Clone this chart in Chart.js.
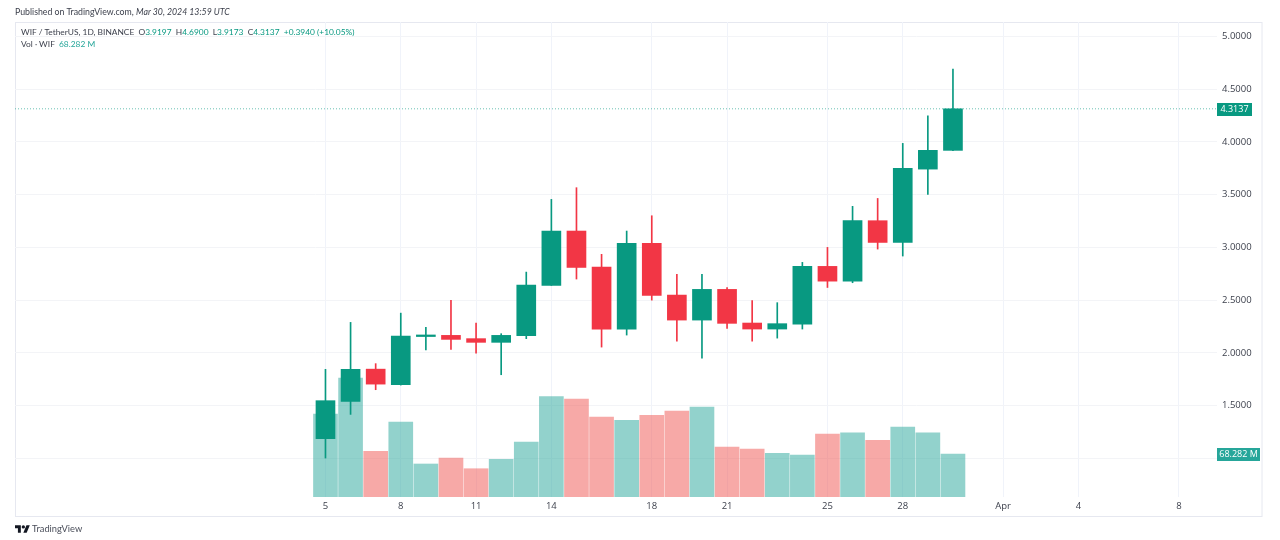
<!DOCTYPE html>
<html>
<head>
<meta charset="utf-8">
<title>WIF / TetherUS</title>
<script src="https://cdn.jsdelivr.net/npm/chart.js@4"></script>
<style>
    body { margin: 0; background: #fff; width: 1280px; height: 540px; overflow: hidden; position: relative; font-family: Lato, sans-serif; }
    canvas { position: absolute; left: 0; top: 0; }
    .txt { position: absolute; white-space: pre; font-size: 8.4px; line-height: 12px; color: #3b3f4b; }
    .head { font-size: 8.75px; }
    .up { color: #089981; }
    .vol { color: #26a69a; }
    .brand { font-size: 9.3px; color: #4a4e5a; }
    svg { position: absolute; left: 15px; top: 525px; }
</style>
</head>
<body>
<canvas id="wifChart" width="1280" height="540"></canvas>
<div class="txt head" style="left:15px;top:6px">Published on TradingView.com, <i>Mar 30, 2024 13:59 UTC</i></div>
<div class="txt" style="left:21px;top:26px">WIF / TetherUS, 1D, BINANCE  O<span class="up">3.9197</span>  H<span class="up">4.6900</span>  L<span class="up">3.9173</span>  C<span class="up">4.3137</span>  <span class="up">+0.3940 (+10.05%)</span></div>
<div class="txt" style="left:21px;top:38px">Vol · WIF  <span class="vol">68.282 M</span></div>
<svg width="15" height="8" viewBox="0 4 36 18"><path fill="#131722" d="M14 22H7V11H0V4h14v18zM28 22h-8l7.5-18h8L28 22z"/><circle fill="#131722" cx="20" cy="8" r="4"/></svg>
<div class="txt brand" style="left:32px;top:523px">TradingView</div>
<script>
    // March 2024 day numbers, April continues as 32, 33...
    const days = [5, 6, 7, 8, 9, 10, 11, 12, 13, 14, 15, 16, 17, 18, 19, 20, 21, 22, 23, 24, 25, 26, 27, 28, 29, 30];
    const opens = [1.187, 1.54, 1.846, 1.699, 2.155, 2.166, 2.135, 2.10, 2.163, 2.64, 3.155, 2.813, 2.226, 3.038, 2.548, 2.311, 2.602, 2.283, 2.226, 2.273, 2.82, 2.68, 3.253, 3.047, 3.742, 3.9197];
    const highs = [1.844, 2.289, 1.898, 2.377, 2.242, 2.498, 2.282, 2.182, 2.766, 3.455, 3.566, 2.934, 3.155, 3.30, 2.744, 2.744, 2.62, 2.495, 2.476, 2.858, 3.0, 3.389, 3.464, 3.986, 4.248, 4.69];
    const lows = [1.003, 1.417, 1.651, 1.695, 2.027, 2.033, 1.998, 1.793, 2.135, 2.64, 2.70, 2.055, 2.169, 2.50, 2.112, 1.951, 2.232, 2.112, 2.14, 2.226, 2.62, 2.665, 2.984, 2.918, 3.502, 3.9173];
    const closes = [1.547, 1.844, 1.704, 2.159, 2.17, 2.128, 2.10, 2.166, 2.643, 3.155, 2.81, 2.226, 3.038, 2.545, 2.311, 2.602, 2.28, 2.226, 2.277, 2.82, 2.68, 3.253, 3.047, 3.749, 3.92, 4.3137];
    const volumes = [131.8, 189, 72.6, 119, 52.4, 61.9, 44.9, 59.9, 87.3, 159.3, 155.6, 127, 121.8, 129.7, 136.6, 142.9, 79.4, 76.2, 69.4, 66.7, 100, 102.1, 90, 111.2, 102.1, 68.282];

    const timeTicks = [5, 8, 11, 14, 18, 21, 25, 28, 32, 35, 39];
    const timeLabels = ['5', '8', '11', '14', '18', '21', '25', '28', 'Apr', '4', '8'];
    const priceTicks = [1, 1.5, 2, 2.5, 3, 3.5, 4, 4.5, 5];
    const priceLabels = ['', '1.5000', '2.0000', '2.5000', '3.0000', '3.5000', '4.0000', '4.5000', '5.0000'];

    const lastClose = 4.3137;
    const lastVolume = 68.282;
    const xMin = -7.37;
    const xMax = 40.52;

    const green = '#089981';
    const red = '#f23645';
    const isUp = (i) => closes[i] >= opens[i];

    const badges = {
        id: 'badges',
        beforeDraw(chart) {
            const { ctx, chartArea, scales } = chart;
            ctx.save();
            ctx.strokeStyle = '#e6e8f0';
            ctx.lineWidth = 1;
            ctx.strokeRect(15.5, chartArea.top + 0.5, scales.y.right - 15.5 - 1, 516 - chartArea.top);
            ctx.restore();
        },
        afterDraw(chart) {
            const { ctx, chartArea, scales } = chart;
            const drawBadge = (y, width, text, color) => {
                ctx.fillStyle = color;
                ctx.fillRect(chartArea.right, Math.round(y) - 6, width, 13);
                ctx.fillStyle = '#fff';
                ctx.font = '9px "Open Sans"';
                ctx.textAlign = 'center';
                ctx.textBaseline = 'middle';
                ctx.fillText(text, chartArea.right + width / 2, Math.round(y) + 0.5);
            };
            ctx.save();
            drawBadge(scales.yVol.getPixelForValue(lastVolume), 43, '68.282 M', '#26a69a');
            drawBadge(scales.y.getPixelForValue(lastClose), 35, '4.3137', green);
            ctx.restore();
        }
    };

    new Chart(document.getElementById('wifChart'), {
        type: 'bar',
        data: {
            datasets: [
                {
                    type: 'line',
                    data: [{ x: xMin, y: lastClose }, { x: xMax, y: lastClose }],
                    borderColor: 'rgba(8, 153, 129, 0.6)',
                    borderWidth: 1,
                    borderDash: [1, 2],
                    pointRadius: 0,
                    order: 4
                },
                {
                    data: days.map((d, i) => ({ x: d, y: volumes[i] })),
                    yAxisID: 'yVol',
                    backgroundColor: days.map((d, i) => (isUp(i) ? 'rgba(38, 166, 154, 0.5)' : 'rgba(239, 83, 80, 0.5)')),
                    barThickness: 24,
                    grouped: false,
                    order: 3
                },
                {
                    data: days.map((d, i) => ({ x: d, y: [lows[i], highs[i]] })),
                    backgroundColor: days.map((d, i) => (isUp(i) ? green : red)),
                    barThickness: 1,
                    grouped: false,
                    order: 2
                },
                {
                    data: days.map((d, i) => ({ x: d, y: [opens[i], closes[i]] })),
                    backgroundColor: days.map((d, i) => (isUp(i) ? green : red)),
                    barThickness: 19,
                    minBarLength: 1,
                    grouped: false,
                    order: 1
                }
            ]
        },
        options: {
            responsive: false,
            animation: false,
            devicePixelRatio: 1,
            layout: { padding: { left: 15, top: 22, right: 17, bottom: 24 } },
            plugins: { legend: { display: false }, tooltip: { enabled: false } },
            scales: {
                x: {
                    type: 'linear',
                    offset: false,
                    min: xMin,
                    max: xMax,
                    border: { display: false },
                    grid: { offset: false, color: '#f0f3fa', drawTicks: false },
                    afterBuildTicks: (axis) => { axis.ticks = timeTicks.map((value) => ({ value })); },
                    afterFit: (axis) => { axis.height = 19; },
                    ticks: {
                        autoSkip: false,
                        maxRotation: 0,
                        padding: 4,
                        color: '#3b3f4b',
                        font: { family: '"Open Sans"', size: 9.5 },
                        callback: (value) => timeLabels[timeTicks.indexOf(value)]
                    }
                },
                y: {
                    position: 'right',
                    min: 0.634,
                    max: 5.1365,
                    border: { display: false },
                    grid: { color: '#f3f4f7', drawTicks: false },
                    afterBuildTicks: (axis) => { axis.ticks = priceTicks.map((value) => ({ value })); },
                    afterFit: (axis) => { axis.width = 46; },
                    ticks: {
                        autoSkip: false,
                        padding: 5,
                        color: '#3b3f4b',
                        font: { family: '"Open Sans"', size: 9.5 },
                        callback: (value) => priceLabels[priceTicks.indexOf(value)]
                    }
                },
                yVol: {
                    display: false,
                    min: 0,
                    max: 754.3
                }
            }
        },
        plugins: [badges]
    });
</script>
</body>
</html>
